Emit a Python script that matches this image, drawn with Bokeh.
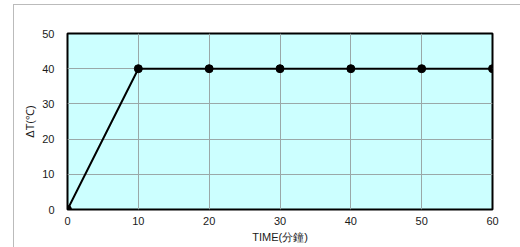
from bokeh.plotting import figure
from bokeh.embed import file_html
from bokeh.resources import INLINE
from bokeh.models import FixedTicker, InlineStyleSheet

time_min = [0, 10, 20, 30, 40, 50, 60]
delta_t = [0, 40, 40, 40, 40, 40, 40]
x_ticks = [0, 10, 20, 30, 40, 50, 60]
y_ticks = [0, 10, 20, 30, 40, 50]

p = figure(width=520, height=247, output_backend="svg", toolbar_location=None,
           x_range=(0, 60), y_range=(0, 50))
p.min_border_left = 67
p.min_border_top = 33
p.min_border_right = 28
p.min_border_bottom = 38
p.background_fill_color = "#ccffff"
p.border_fill_color = "white"
p.outline_line_color = "black"
p.outline_line_width = 2

p.stylesheets = [InlineStyleSheet(css=":host::after{content:'';position:absolute;left:13px;top:4px;width:600px;height:400px;border:1px solid #bbbbbb;pointer-events:none;}")]

for ax in (p.xaxis, p.yaxis):
    ax.axis_line_color = None
    ax.major_tick_line_color = None
    ax.minor_tick_line_color = None
    ax.major_tick_out = 0
    ax.major_tick_in = 0
    ax.major_label_text_font = "Liberation Sans"
    ax.major_label_text_font_size = "11px"
    ax.major_label_text_color = "#1a1a1a"
    ax.axis_label_text_font = "Liberation Sans"
    ax.axis_label_text_font_size = "11px"
    ax.axis_label_text_font_style = "normal"
    ax.axis_label_text_color = "#1a1a1a"

p.xaxis.ticker = FixedTicker(ticks=x_ticks)
p.yaxis.ticker = FixedTicker(ticks=y_ticks)
p.xaxis.major_label_standoff = 7
p.yaxis.major_label_standoff = 13
p.xaxis.axis_label = "TIME(分鐘)"
p.yaxis.axis_label = "ΔT(℃)"
p.xaxis.axis_label_standoff = 3
p.yaxis.axis_label_standoff = 3

p.xgrid.grid_line_color = "#9aa8a8"
p.ygrid.grid_line_color = "#9aa8a8"
p.xgrid.grid_line_width = 1
p.ygrid.grid_line_width = 1

p.line(time_min, delta_t, line_color="black", line_width=2)
p.scatter(time_min, delta_t, size=8, fill_color="black", line_color="black")

open("out.html", "w").write(file_html(p, INLINE))
